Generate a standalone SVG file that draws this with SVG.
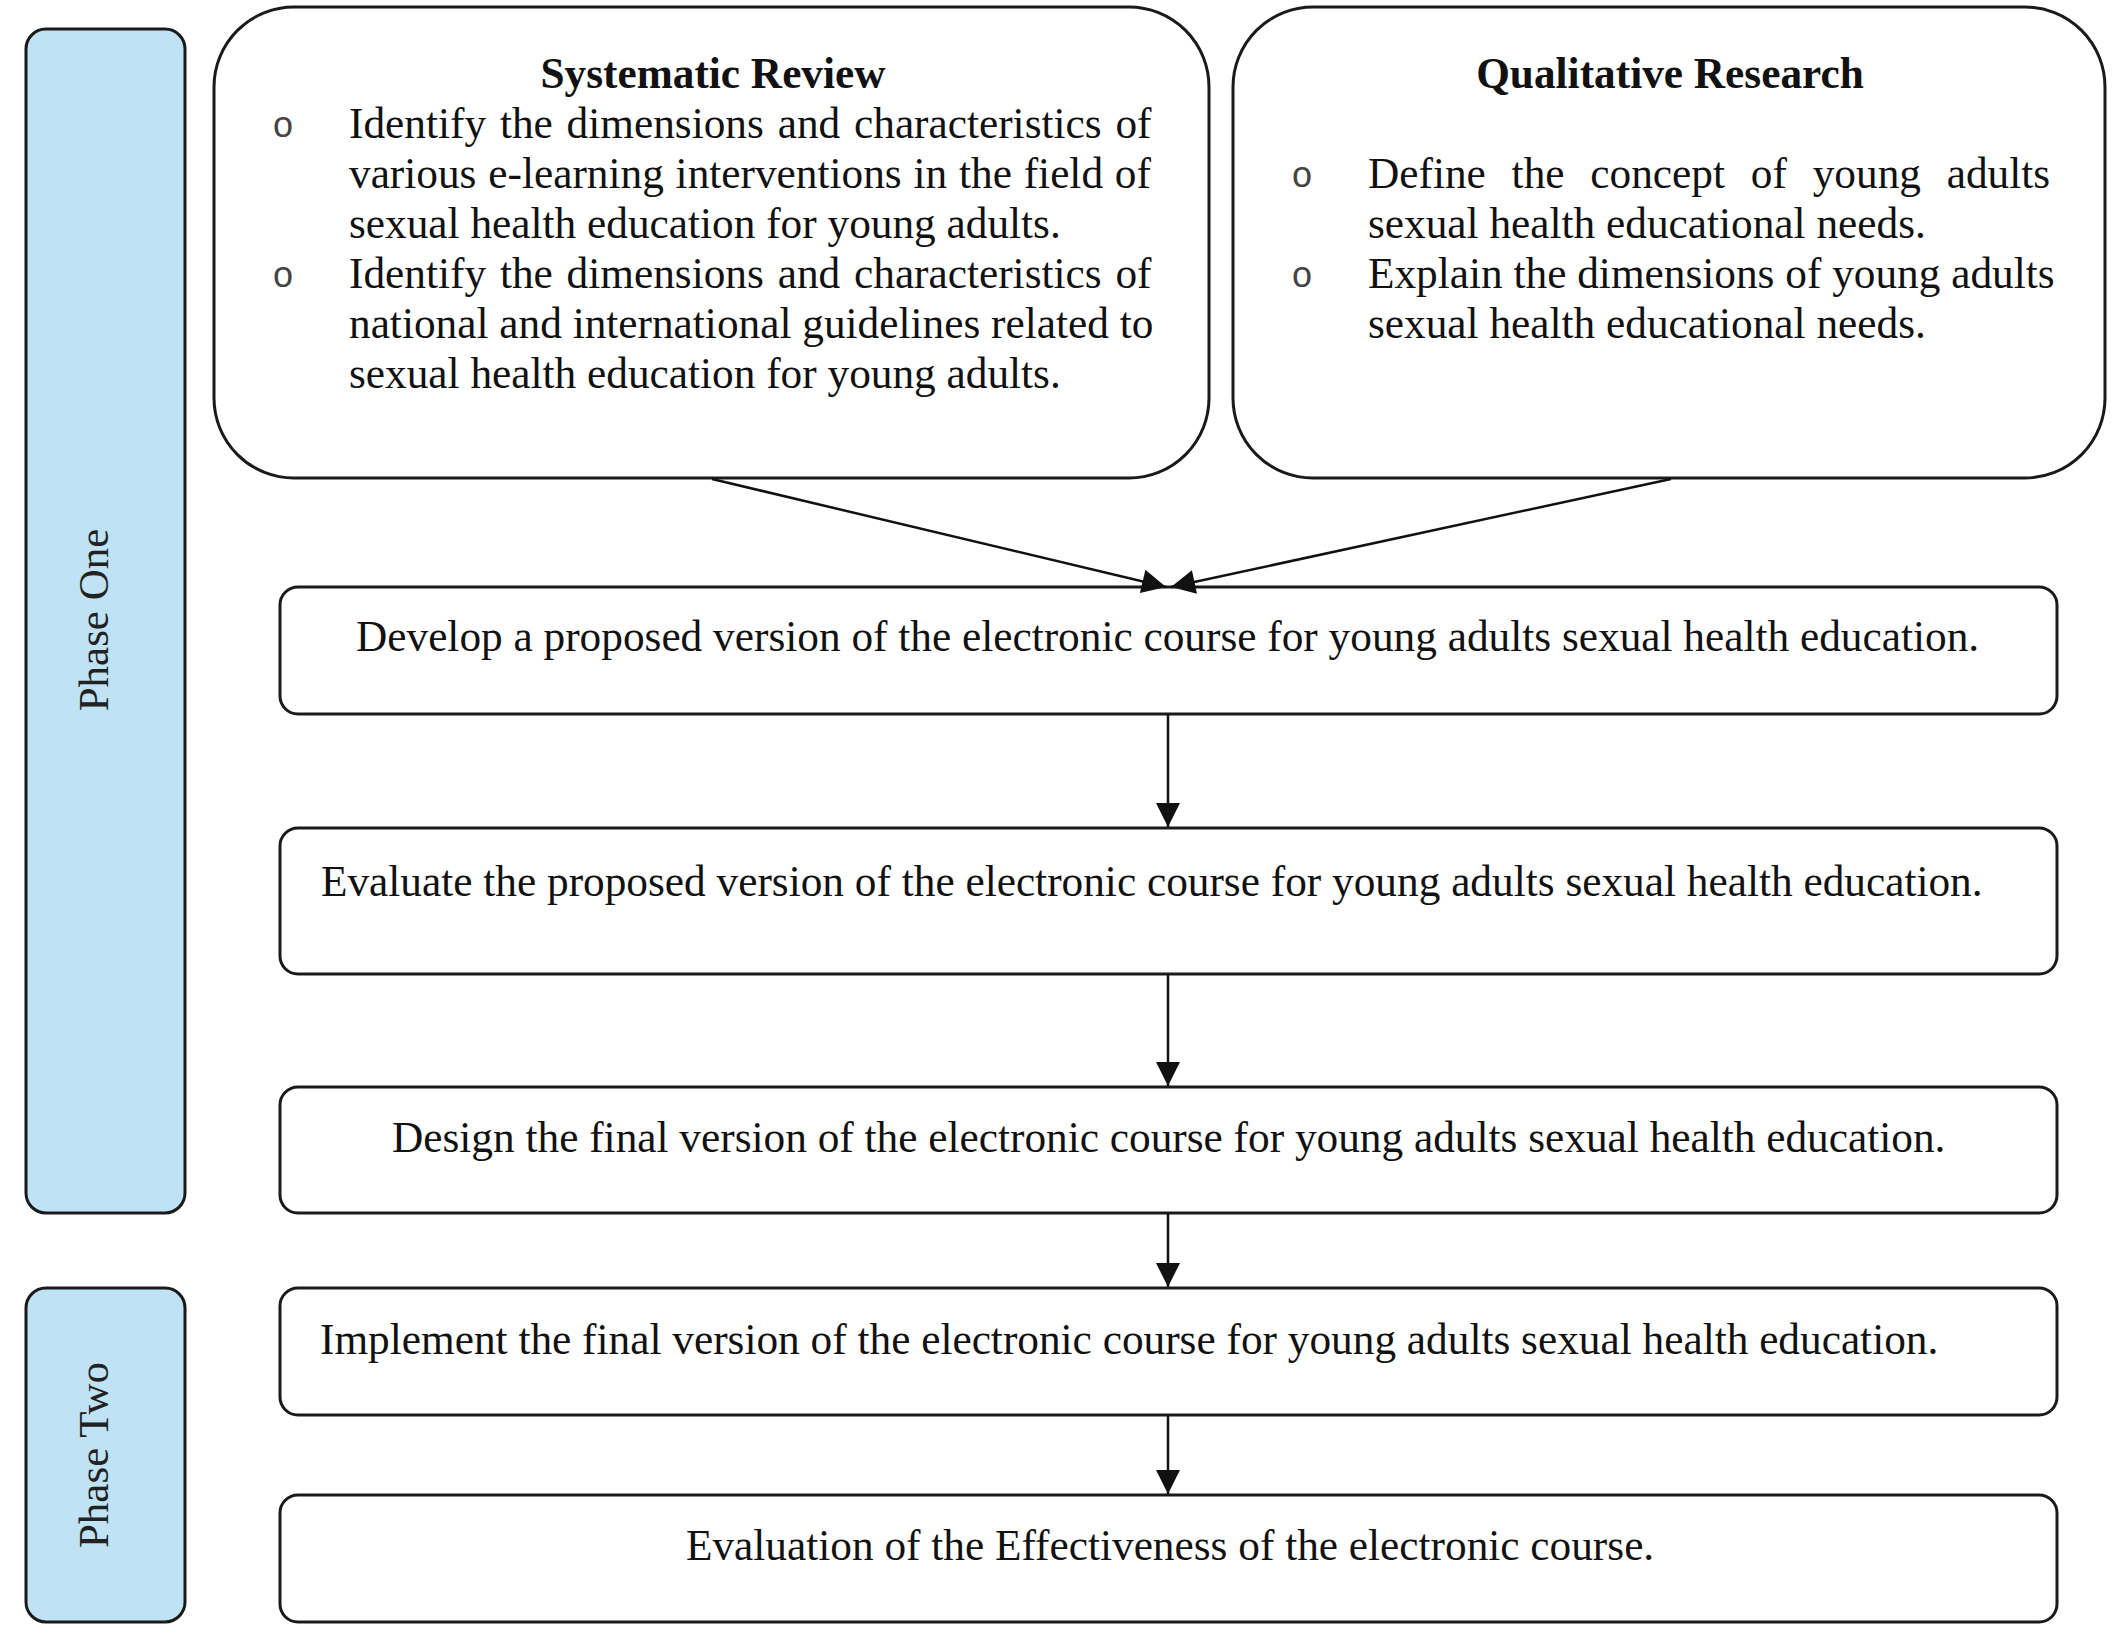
<svg xmlns="http://www.w3.org/2000/svg" width="2118" height="1646" viewBox="0 0 2118 1646">
<style>
.box{fill:#fff;stroke:#1a1a1a;stroke-width:3}
.phase{fill:#bfe3f4;stroke:#1a1a1a;stroke-width:3}
.t{font-family:"Liberation Serif","Times New Roman",serif;font-size:43.3px;fill:#111}
.b{font-weight:bold}
.ph{font-family:"Liberation Serif","Times New Roman",serif;font-size:43px;fill:#222;text-anchor:middle}
.bul{font-family:"Liberation Mono","Courier New",monospace;font-size:36px;fill:#444;text-anchor:middle}
.c{fill:none;stroke:#111;stroke-width:2.5}
</style>
<defs>
<marker id="ah2" viewBox="0 0 10 10" refX="10" refY="5" markerWidth="26" markerHeight="24" markerUnits="userSpaceOnUse" orient="auto">
<path d="M0,0 L10,5 L0,10 z" fill="#111"/>
</marker>
</defs>
<rect width="2118" height="1646" fill="#fff"/>
<g id="phase-one">
<rect class="phase" x="26" y="29" width="159" height="1184" rx="20"/>
<text class="ph" transform="translate(108,620) rotate(-90)">Phase One</text>
</g>
<g id="phase-two">
<rect class="phase" x="26" y="1288" width="159" height="334" rx="20"/>
<text class="ph" transform="translate(108,1455) rotate(-90)">Phase Two</text>
</g>
<g id="systematic-review">
<rect class="box" x="214" y="7" width="995" height="471" rx="80"/>
<text class="t b" x="713" y="88" text-anchor="middle">Systematic Review</text>
<text class="bul" x="283" y="137">o</text>
<text class="bul" x="283" y="287">o</text>
<text class="t" x="349" y="138" word-spacing="3">Identify the dimensions and characteristics of</text>
<text class="t" x="349" y="188" word-spacing="1">various e-learning interventions in the field of</text>
<text class="t" x="349" y="238">sexual health education for young adults.</text>
<text class="t" x="349" y="288" word-spacing="3">Identify the dimensions and characteristics of</text>
<text class="t" x="349" y="338">national and international guidelines related to</text>
<text class="t" x="349" y="388">sexual health education for young adults.</text>
</g>
<g id="qualitative-research">
<rect class="box" x="1233" y="7" width="872" height="471" rx="80"/>
<text class="t b" x="1670" y="88" text-anchor="middle">Qualitative Research</text>
<text class="bul" x="1302" y="187">o</text>
<text class="bul" x="1302" y="287">o</text>
<text class="t" x="1368" y="188" word-spacing="15">Define the concept of young adults</text>
<text class="t" x="1368" y="238">sexual health educational needs.</text>
<text class="t" x="1368" y="288">Explain the dimensions of young adults</text>
<text class="t" x="1368" y="338">sexual health educational needs.</text>
</g>
<g id="develop">
<rect class="box" x="280" y="587" width="1777" height="127" rx="18"/>
<text class="t" x="356" y="651">Develop a proposed version of the electronic course for young adults sexual health education.</text>
</g>
<g id="evaluate">
<rect class="box" x="280" y="828" width="1777" height="146" rx="18"/>
<text class="t" x="321" y="896">Evaluate the proposed version of the electronic course for young adults sexual health education.</text>
</g>
<g id="design">
<rect class="box" x="280" y="1087" width="1777" height="126" rx="18"/>
<text class="t" x="392" y="1152">Design the final version of the electronic course for young adults sexual health education.</text>
</g>
<g id="implement">
<rect class="box" x="280" y="1288" width="1777" height="127" rx="18"/>
<text class="t" x="320" y="1354">Implement the final version of the electronic course for young adults sexual health education.</text>
</g>
<g id="evaluation">
<rect class="box" x="280" y="1495" width="1777" height="127" rx="18"/>
<text class="t" x="686" y="1560">Evaluation of the Effectiveness of the electronic course.</text>
</g>
<g id="connectors">
<line class="c" x1="712" y1="479" x2="1166" y2="587" marker-end="url(#ah2)"/>
<line class="c" x1="1671" y1="479" x2="1171" y2="587" marker-end="url(#ah2)"/>
<line class="c" x1="1168" y1="714" x2="1168" y2="827" marker-end="url(#ah2)"/>
<line class="c" x1="1168" y1="974" x2="1168" y2="1086" marker-end="url(#ah2)"/>
<line class="c" x1="1168" y1="1213" x2="1168" y2="1287" marker-end="url(#ah2)"/>
<line class="c" x1="1168" y1="1415" x2="1168" y2="1494" marker-end="url(#ah2)"/>
</g>
</svg>
